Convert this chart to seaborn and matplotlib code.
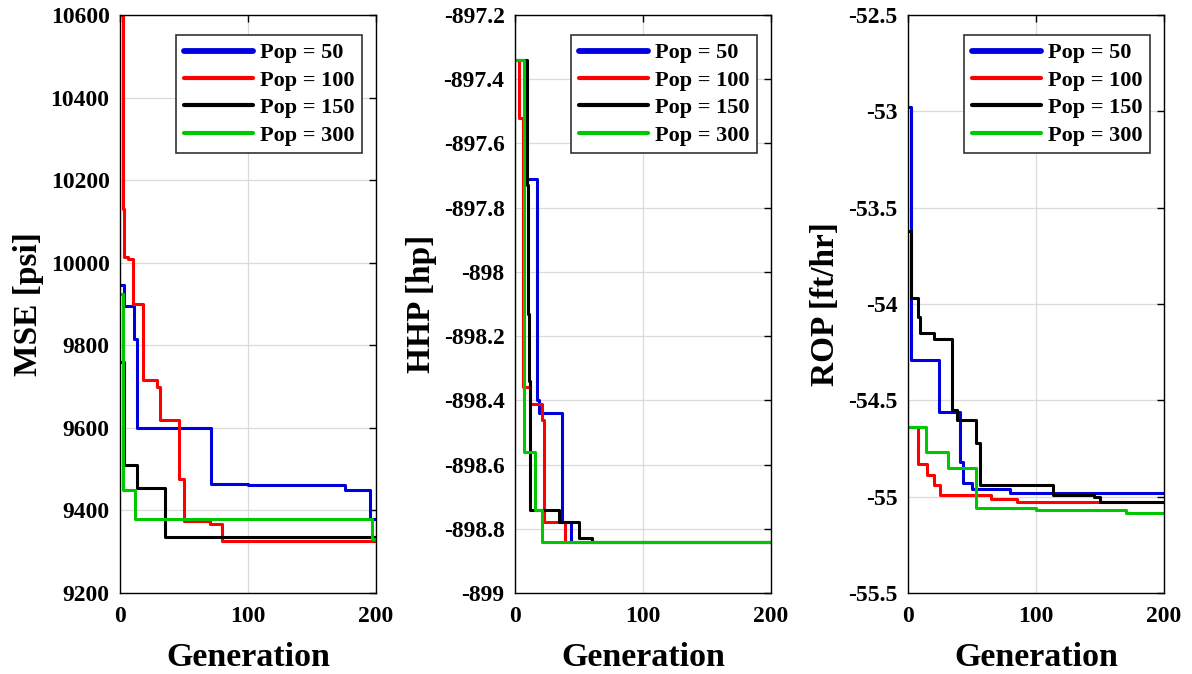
import numpy as np
import pandas as pd
import matplotlib
matplotlib.use('Agg')
import matplotlib.pyplot as plt
import seaborn as sns
from matplotlib.ticker import FuncFormatter
from matplotlib.lines import Line2D

sns.set_theme(style='white')
plt.rcParams['font.family'] = ['Liberation Serif', 'DejaVu Serif']
plt.rcParams['font.weight'] = 'bold'
plt.rcParams['axes.unicode_minus'] = False
plt.rcParams['text.color'] = 'black'
plt.rcParams['axes.labelcolor'] = 'black'
plt.rcParams['xtick.color'] = 'black'
plt.rcParams['ytick.color'] = 'black'

series_labels = ['Pop = 50', 'Pop = 100', 'Pop = 150', 'Pop = 300']
colors = ['#0000dd', '#ff0000', '#000000', '#00c800']

# ---- MSE panel (step breakpoints: generation, value) ----
mse_gen_50 = [1, 3, 11, 13.5, 71, 100, 176, 195, 199, 200]
mse_val_50 = [9945, 9895, 9815, 9600, 9465, 9462, 9450, 9380, 9380, 9380]
mse_gen_100 = [1, 2, 3, 6.5, 10, 18, 29, 31, 46, 50, 70, 80, 200]
mse_val_100 = [10600, 10130, 10015, 10010, 9900, 9715, 9700, 9620, 9475, 9375, 9368, 9325, 9325]
mse_gen_150 = [1, 3.5, 13.5, 35, 200]
mse_val_150 = [9760, 9510, 9455, 9335, 9335]
mse_gen_300 = [1, 2, 12, 195, 197, 200]
mse_val_300 = [9925, 9450, 9380, 9380, 9330, 9330]

# ---- HHP panel ----
hhp_gen_50 = [1, 8, 17, 19, 37, 44, 200]
hhp_val_50 = [-897.34, -897.71, -898.40, -898.44, -898.78, -898.84, -898.84]
hhp_gen_100 = [1, 3, 6, 12, 21, 22.5, 39, 200]
hhp_val_100 = [-897.34, -897.52, -898.36, -898.41, -898.46, -898.78, -898.84, -898.84]
hhp_gen_150 = [1, 9, 10, 11, 12, 34, 50, 60, 200]
hhp_val_150 = [-897.34, -897.73, -898.13, -898.34, -898.74, -898.78, -898.83, -898.84, -898.84]
hhp_gen_300 = [1, 7, 16, 21, 200]
hhp_val_300 = [-897.34, -898.56, -898.74, -898.84, -898.84]

# ---- ROP panel ----
rop_gen_50 = [1, 2, 24, 41, 43, 50, 80, 200]
rop_val_50 = [-52.98, -54.29, -54.56, -54.82, -54.93, -54.96, -54.98, -54.98]
rop_gen_100 = [1, 8, 15, 20, 25, 65, 85, 200]
rop_val_100 = [-54.64, -54.83, -54.89, -54.94, -54.99, -55.01, -55.03, -55.03]
rop_gen_150 = [1, 2, 8, 9, 20, 34, 38, 53, 56, 113, 145, 150, 200]
rop_val_150 = [-53.62, -53.97, -54.07, -54.15, -54.18, -54.55, -54.60, -54.72, -54.94, -54.99, -55.00, -55.03, -55.03]
rop_gen_300 = [1, 14, 31, 53, 100, 170, 200]
rop_val_300 = [-54.64, -54.77, -54.85, -55.06, -55.07, -55.085, -55.085]

panels = [
    dict(ylabel='MSE [psi]', ylim=(9200, 10600), yticks=[9200, 9400, 9600, 9800, 10000, 10200, 10400, 10600],
         gens=[mse_gen_50, mse_gen_100, mse_gen_150, mse_gen_300],
         vals=[mse_val_50, mse_val_100, mse_val_150, mse_val_300]),
    dict(ylabel='HHP [hp]', ylim=(-899, -897.2), yticks=[-899, -898.8, -898.6, -898.4, -898.2, -898, -897.8, -897.6, -897.4, -897.2],
         gens=[hhp_gen_50, hhp_gen_100, hhp_gen_150, hhp_gen_300],
         vals=[hhp_val_50, hhp_val_100, hhp_val_150, hhp_val_300]),
    dict(ylabel='ROP [ft/hr]', ylim=(-55.5, -52.5), yticks=[-55.5, -55, -54.5, -54, -53.5, -53, -52.5],
         gens=[rop_gen_50, rop_gen_100, rop_gen_150, rop_gen_300],
         vals=[rop_val_50, rop_val_100, rop_val_150, rop_val_300]),
]

xticks = [0, 100, 200]
lefts = [120 / 1192, 515 / 1192, 908 / 1192]
width = 256 / 1192
ax_top_px, ax_bot_px = 15, 593
bottom = 1 - ax_bot_px / 674
height = (ax_bot_px - ax_top_px) / 674

fig = plt.figure(figsize=(11.92, 6.74), dpi=100)
fig.patch.set_facecolor('white')

tick_fs = 17
ylabel_fs = 24
xlabel_fs = 24.5
legend_fs = 16

for p, left in zip(panels, lefts):
    ax = fig.add_axes([left, bottom, width, height])
    frames = []
    for lab, g, v in zip(series_labels, p['gens'], p['vals']):
        frames.append(pd.DataFrame({'Generation': g, 'Value': v, 'Series': lab}))
    df = pd.concat(frames, ignore_index=True)
    sns.lineplot(data=df, x='Generation', y='Value', hue='Series', hue_order=series_labels,
                 palette=colors, estimator=None, sort=False, drawstyle='steps-post',
                 linewidth=2.2, legend=False, ax=ax)
    ax.set_xlim(0, 200)
    ax.set_ylim(*p['ylim'])
    ax.set_xticks(xticks)
    ax.set_yticks(p['yticks'])
    ax.yaxis.set_major_formatter(FuncFormatter(lambda v, pos: '{:g}'.format(round(v, 4))))
    ax.grid(True, color='#dadada', linewidth=0.9)
    ax.tick_params(direction='in', length=5, width=1, top=True, right=True,
                   labelsize=tick_fs, colors='black')
    ax.tick_params(axis='x', pad=9)
    ax.tick_params(axis='y', pad=7.5)
    for lab in ax.get_xticklabels() + ax.get_yticklabels():
        lab.set_fontweight('bold')
        lab.set_color('black')
    for s in ax.spines.values():
        s.set_color('black')
        s.set_linewidth(1.0)
    ax.set_xlabel('Generation', fontsize=xlabel_fs, fontweight='bold', labelpad=11, color='black')
    ax.set_ylabel(p['ylabel'], fontsize=ylabel_fs, fontweight='bold', labelpad=5, color='black')
    handles = [Line2D([0], [0], color=c, linewidth=(4.2 if i == 0 else 3.0))
               for i, c in enumerate(colors)]
    axw_px = width * 1192
    axh_px = height * 674
    leg = ax.legend(handles, series_labels, loc='upper right',
                    bbox_to_anchor=(1 - 14 / axw_px, 1 - 20 / axh_px), borderaxespad=0,
                    frameon=True, fancybox=False, framealpha=1, edgecolor='#333333',
                    handlelength=3.1, handletextpad=0.3, borderpad=0.35, labelspacing=0.31,
                    prop={'weight': 'bold', 'size': legend_fs})
    for t in leg.get_texts():
        t.set_color('black')
    leg.get_frame().set_linewidth(1.2)

fig.savefig('out.png', dpi=100, facecolor='white')
